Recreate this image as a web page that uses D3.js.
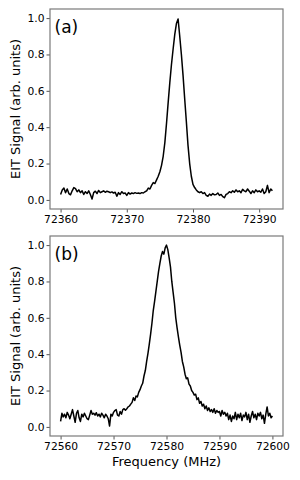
<!DOCTYPE html>
<html lang="en">

<head>
    <meta charset="UTF-8">
    <title>EIT spectra</title>
    <style>
        body {
            margin: 0;
            padding: 0;
            overflow: hidden;
            background: #fff;
        }

        svg text {
            font-family: "DejaVu Sans", sans-serif;
        }
    </style>
</head>

<body>
<svg id="chart" width="300" height="480"></svg>
<script src="https://cdn.jsdelivr.net/npm/d3@7"></script>
<script>
    // panel (a): sweep 72360 -> 72392 MHz, one point per 0.25 MHz
    const startA = 72360, stepA = 0.25
    const signalA = [
        0.030, 0.055, 0.065, 0.040, 0.060, 0.035, 0.028, 0.050, 0.068, 0.062, 0.045, 0.055, 0.040, 0.050, 0.030, 0.045, 0.035,
        0.050, 0.030, 0.005, 0.040, 0.048, 0.035, 0.052, 0.040, 0.045, 0.050, 0.042, 0.048, 0.045, 0.040, 0.044, 0.038,
        0.042, 0.020, 0.040, 0.030, 0.045, 0.035, 0.038, 0.025, 0.040, 0.032, 0.038, 0.035, 0.040, 0.036, 0.038, 0.035,
        0.040, 0.038, 0.045, 0.050, 0.065, 0.060, 0.080, 0.095,
        0.090, 0.110, 0.130, 0.155, 0.190, 0.240, 0.315, 0.420, 0.535, 0.645, 0.745, 0.830, 0.910, 0.970,
        0.995, 0.900, 0.800, 0.685, 0.555, 0.430, 0.300, 0.200, 0.130, 0.085, 0.068, 0.055, 0.045, 0.040,
        0.045, 0.035, 0.040, 0.025, 0.020, 0.032, 0.025, 0.035, 0.028, 0.030, 0.038, 0.025, 0.030, 0.018, 0.012,
        0.030, 0.035, 0.045, 0.040, 0.050, 0.042, 0.055, 0.045, 0.050, 0.040, 0.058, 0.050, 0.045, 0.060, 0.048,
        0.035, 0.050, 0.040, 0.055, 0.045, 0.050, 0.042, 0.060, 0.035, 0.045, 0.080, 0.040, 0.060, 0.050
    ]

    // panel (b): sweep 72560 -> 72600 MHz, one point per 0.25 MHz
    const startB = 72560, stepB = 0.25
    const signalB = [
        0.030, 0.075, 0.055, 0.070, 0.050, 0.080, 0.065, 0.045, 0.070, 0.095, 0.060, 0.025, 0.075, 0.090, 0.050, 0.030,
        0.070, 0.055, 0.075, 0.060, 0.045, 0.040, 0.065, 0.090, 0.070, 0.075, 0.065, 0.078, 0.060, 0.070, 0.055, 0.075,
        0.065, 0.050, 0.070, 0.060, 0.045, 0.005, 0.070, 0.060,
        0.080, 0.090, 0.095, 0.065, 0.060, 0.085, 0.070, 0.095, 0.100, 0.092, 0.100, 0.110, 0.115, 0.125, 0.135, 0.160,
        0.145, 0.170, 0.165, 0.190,
        0.205, 0.225, 0.240, 0.280, 0.310, 0.360, 0.405, 0.455, 0.510, 0.570, 0.640, 0.690, 0.745, 0.800, 0.855, 0.900,
        0.940, 0.965, 0.950, 0.985, 1.000, 0.975, 0.930, 0.880, 0.800, 0.740, 0.680, 0.600, 0.545, 0.495, 0.450, 0.410,
        0.360, 0.330, 0.290, 0.265, 0.270, 0.235, 0.225, 0.200,
        0.190, 0.175, 0.180, 0.150, 0.160, 0.130, 0.140, 0.115, 0.125, 0.100, 0.115, 0.090, 0.105, 0.085, 0.095, 0.080,
        0.100, 0.075, 0.090, 0.080, 0.085, 0.060, 0.090, 0.070, 0.080, 0.060, 0.075, 0.040, 0.065, 0.030, 0.060, 0.045,
        0.080, 0.040, 0.070, 0.050, 0.075, 0.035, 0.065, 0.055, 0.080, 0.040, 0.070, 0.025, 0.060, 0.085, 0.050, 0.070,
        0.040, 0.075, 0.060, 0.080, 0.045, 0.065, 0.020, 0.070, 0.110, 0.060, 0.075, 0.050, 0.060
    ]

    const ticksA = [72360, 72370, 72380, 72390]
    const ticksB = [72560, 72570, 72580, 72590, 72600]
    const yTicks = [0.0, 0.2, 0.4, 0.6, 0.8, 1.0]

    const svg = d3.select("#chart")
    const left = 50, right = 283

    function panel(label, start, step, values, xTicks, top, bottom) {
        const pts = values.map((v, i) => ({f: start + i * step, s: v}))
        const fMin = d3.min(pts, d => d.f), fMax = d3.max(pts, d => d.f)
        const pad = (fMax - fMin) * 0.05
        const x = d3.scaleLinear().domain([fMin - pad, fMax + pad]).range([left, right])
        const y = d3.scaleLinear().domain([-0.05, 1.05]).range([bottom, top])

        const g = svg.append("g")

        g.append("path")
            .datum(pts)
            .attr("fill", "none")
            .attr("stroke", "#000")
            .attr("stroke-width", 1.5)
            .attr("stroke-linejoin", "round")
            .attr("d", d3.line().x(d => x(d.f)).y(d => y(d.s)))

        const xAxis = g.append("g")
            .attr("transform", `translate(0,${bottom})`)
            .call(d3.axisBottom(x).tickValues(xTicks).tickFormat(d3.format("d")).tickSize(3.5).tickPadding(3))
        const yAxis = g.append("g")
            .attr("transform", `translate(${left},0)`)
            .call(d3.axisLeft(y).tickValues(yTicks).tickFormat(d3.format(".1f")).tickSize(3.5).tickPadding(2))

        for (const ax of [xAxis, yAxis]) {
            ax.select(".domain").remove()
            ax.selectAll("line").attr("stroke", "#555")
            ax.selectAll("text")
                .attr("fill", "#000")
                .style("font-size", "10.7px")
                .style("font-family", "DejaVu Sans")
        }

        // frame
        g.append("rect")
            .attr("x", left).attr("y", top)
            .attr("width", right - left).attr("height", bottom - top)
            .attr("fill", "none")
            .attr("stroke", "#7a7a7a")
            .attr("stroke-width", 1.2)

        g.append("text")
            .attr("x", left + 4.5)
            .attr("y", top + 23.5)
            .style("font-size", "17px")
            .text(label)

        g.append("text")
            .attr("transform", `translate(15,${(top + bottom) / 2}) rotate(-90)`)
            .attr("text-anchor", "middle")
            .attr("dy", "0.35em")
            .style("font-size", "13px")
            .text("EIT Signal (arb. units)")
    }

    panel("(a)", startA, stepA, signalA, ticksA, 9, 209)
    panel("(b)", startB, stepB, signalB, ticksB, 236, 436)

    svg.append("text")
        .attr("x", (left + right) / 2)
        .attr("y", 466)
        .attr("text-anchor", "middle")
        .style("font-size", "13px")
        .text("Frequency (MHz)")
</script>
</body>

</html>
